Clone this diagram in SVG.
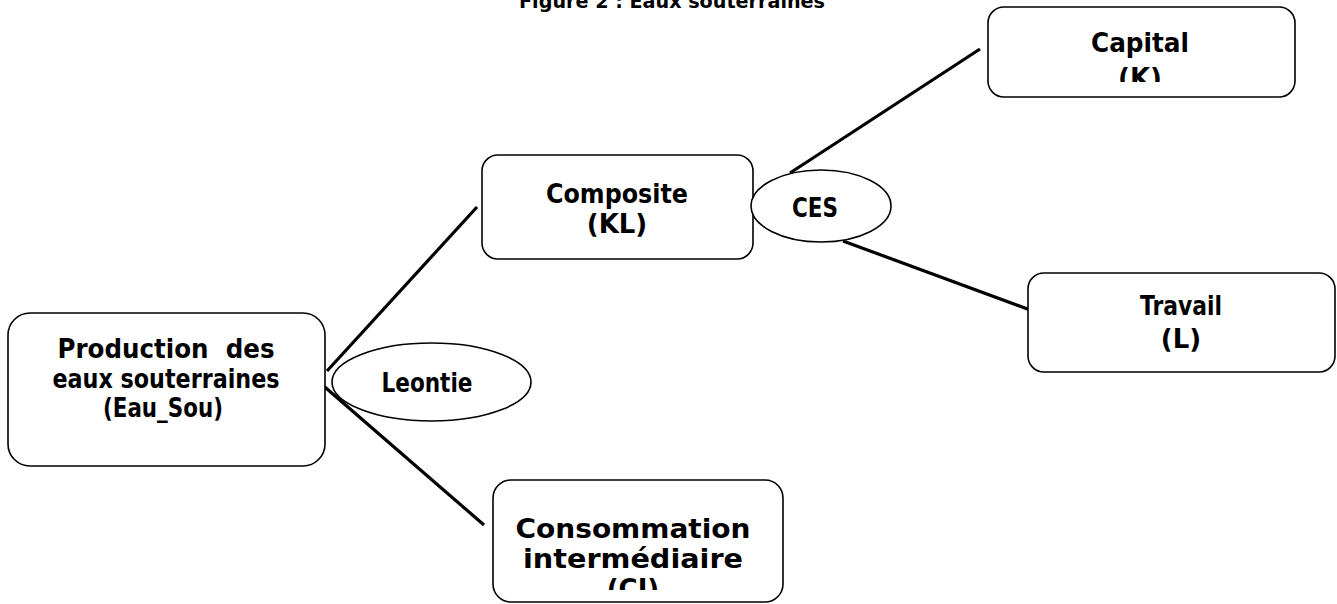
<svg xmlns="http://www.w3.org/2000/svg" width="1337" height="604" viewBox="0 0 1337 604">
<style>
.box{fill:#fff;stroke:#000;stroke-width:1.6}
.ell{fill:#fff;stroke:#000;stroke-width:1.6}
.con{stroke:#000;stroke-width:3.2;fill:none}
text{font-family:"DejaVu Sans","Liberation Sans",sans-serif;font-weight:bold;font-size:26px;fill:#000;text-anchor:middle}
.title{font-size:20px}
</style>
<defs>
<clipPath id="clipK"><rect x="988" y="7" width="307" height="75"/></clipPath>
<clipPath id="clipCI"><rect x="493" y="480" width="290" height="110"/></clipPath>
</defs>
<text class="title" x="672" y="8" textLength="306" lengthAdjust="spacingAndGlyphs">Figure 2 : Eaux souterraines</text>
<g id="connectors">
<line class="con" x1="327" y1="371" x2="477" y2="207"/>
<line class="con" x1="319" y1="382" x2="484" y2="525"/>
<line class="con" x1="790" y1="173" x2="980" y2="49"/>
<line class="con" x1="843" y1="241" x2="1033" y2="311"/>
</g>
<g id="production">
<rect class="box" x="8" y="313" width="317" height="153" rx="22"/>
<text x="166" y="358" textLength="217" lengthAdjust="spacingAndGlyphs" xml:space="preserve">Production  des</text>
<text x="166" y="388" textLength="227" lengthAdjust="spacingAndGlyphs">eaux souterraines</text>
<text x="163" y="417" textLength="120" lengthAdjust="spacingAndGlyphs">(Eau_Sou)</text>
</g>
<g id="composite">
<rect class="box" x="482" y="155" width="271" height="104" rx="16"/>
<text x="617" y="203" textLength="142" lengthAdjust="spacingAndGlyphs">Composite</text>
<text x="617" y="233">(KL)</text>
</g>
<g id="capital">
<rect class="box" x="988" y="7" width="307" height="90" rx="16"/>
<text x="1140" y="52" textLength="98" lengthAdjust="spacingAndGlyphs">Capital</text>
<text x="1140" y="87" clip-path="url(#clipK)">(K)</text>
</g>
<g id="travail">
<rect class="box" x="1028" y="273" width="307" height="99" rx="16"/>
<text x="1181" y="315" textLength="82" lengthAdjust="spacingAndGlyphs">Travail</text>
<text x="1181" y="348">(L)</text>
</g>
<g id="consommation">
<rect class="box" x="493" y="480" width="290" height="122" rx="18"/>
<text x="633" y="538" textLength="235" lengthAdjust="spacingAndGlyphs">Consommation</text>
<text x="633" y="568" textLength="220" lengthAdjust="spacingAndGlyphs">intermédiaire</text>
<text x="633" y="598" clip-path="url(#clipCI)">(CI)</text>
</g>
<g id="ces">
<ellipse class="ell" cx="821" cy="206" rx="70" ry="36"/>
<text x="815" y="217" textLength="46" lengthAdjust="spacingAndGlyphs">CES</text>
</g>
<g id="leontie">
<ellipse class="ell" cx="431.5" cy="382" rx="99.5" ry="39"/>
<text x="427" y="392" textLength="91" lengthAdjust="spacingAndGlyphs">Leontie</text>
</g>
</svg>
